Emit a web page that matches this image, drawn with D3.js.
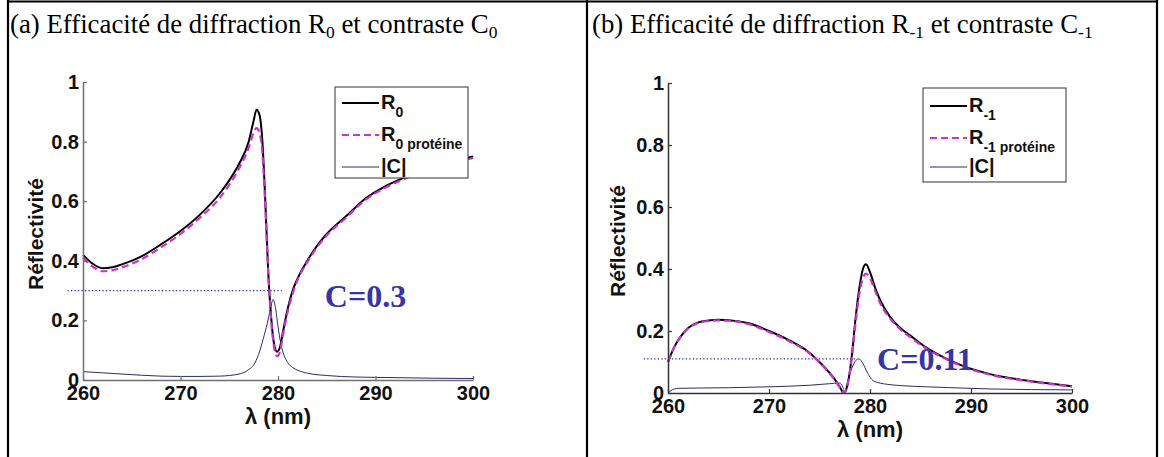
<!DOCTYPE html>
<html>
<head>
<meta charset="utf-8">
<script src="https://cdn.jsdelivr.net/npm/d3@7"></script>
<style>
  html, body { margin: 0; padding: 0; background: #fff; }
  svg { display: block; }
  .tick text { font-family: "Liberation Sans", Arial, sans-serif; font-weight: bold; font-size: 20px; fill: #111; }
</style>
</head>
<body>
<svg id="chart" width="1164" height="457"></svg>
<script>
// Wavelength samples (nm) and reflectivities for panel (a): order 0
const lambdaA_R = [260,261,262,263,264,266,268,270,272,274,275,276,277,277.5,277.8,278.1,278.4,278.7,279,279.3,279.6,279.9,280.2,280.5,281,281.5,282,283,284,285,287,289,291,293,295,297,300];
const R0 = [0.42,0.39,0.375,0.378,0.388,0.415,0.455,0.50,0.555,0.625,0.67,0.725,0.80,0.87,0.907,0.89,0.80,0.60,0.36,0.21,0.12,0.095,0.11,0.16,0.24,0.30,0.34,0.40,0.45,0.49,0.55,0.61,0.65,0.68,0.705,0.725,0.75];
const R0prot = [0.41,0.38,0.365,0.368,0.378,0.405,0.445,0.49,0.545,0.61,0.655,0.71,0.78,0.83,0.845,0.83,0.76,0.58,0.36,0.2,0.11,0.08,0.095,0.15,0.23,0.29,0.335,0.395,0.445,0.485,0.545,0.605,0.645,0.675,0.70,0.72,0.745];
const lambdaA_C = [260,262,264,266,268,270,272,274,276,277,277.5,278,278.5,278.9,279.2,279.5,279.7,280,280.3,280.6,281,281.5,282,283,285,288,292,296,300];
const C0 = [0.028,0.024,0.02,0.016,0.013,0.012,0.012,0.013,0.02,0.035,0.05,0.085,0.14,0.19,0.235,0.27,0.25,0.18,0.12,0.085,0.058,0.042,0.033,0.023,0.015,0.01,0.008,0.006,0.005];
const contrastA = 0.3;

// Panel (b): order -1
const lambdaB_R = [260,260.5,261,262,263,264,265,266,268,270,272,274,275,276,276.5,277,277.4,277.8,278.2,278.6,279,279.3,279.6,280,280.5,281,282,283,284,285.5,287,289,292,295.5,300];
const Rm1 = [0.10,0.14,0.17,0.21,0.228,0.234,0.236,0.235,0.225,0.20,0.17,0.13,0.10,0.065,0.045,0.02,0.0,0.03,0.12,0.25,0.35,0.40,0.415,0.39,0.34,0.30,0.245,0.21,0.185,0.148,0.12,0.09,0.06,0.04,0.022];
const Rm1prot = [0.10,0.14,0.17,0.208,0.226,0.232,0.234,0.233,0.222,0.197,0.167,0.128,0.098,0.063,0.043,0.018,0.0,0.03,0.115,0.235,0.33,0.37,0.385,0.37,0.33,0.29,0.24,0.205,0.18,0.145,0.118,0.088,0.058,0.039,0.021];
const lambdaB_C = [260,260.3,261,263,266,270,274,276,277,277.3,277.5,277.8,278.2,278.6,278.9,279.3,279.7,280.3,281,281.7,283,285.6,289,292,296,300];
const Cm1 = [0.0,0.008,0.015,0.016,0.017,0.02,0.025,0.03,0.032,0.02,0.0,0.04,0.08,0.105,0.11,0.095,0.068,0.04,0.032,0.028,0.024,0.02,0.016,0.013,0.011,0.01];
const contrastB = 0.11;

// Axis ticks
const xTicks = [260, 270, 280, 290, 300];
const yTicks = [0, 0.2, 0.4, 0.6, 0.8, 1];

const svg = d3.select("#chart");
const serif = "'Liberation Serif', 'Times New Roman', serif";
const sans = "'Liberation Sans', Arial, sans-serif";

// Table frame
const frame = svg.append("g").attr("stroke", "#000").attr("stroke-width", 2.2);
frame.append("line").attr("x1", 7).attr("x2", 1158).attr("y1", 1.5).attr("y2", 1.5);
frame.append("line").attr("x1", 8).attr("x2", 8).attr("y1", 0).attr("y2", 457);
frame.append("line").attr("x1", 587).attr("x2", 587).attr("y1", 0).attr("y2", 457);
frame.append("line").attr("x1", 1157).attr("x2", 1157).attr("y1", 0).attr("y2", 457);

function title(x, parts) {
  const t = svg.append("text").attr("x", x).attr("y", 33)
    .attr("font-family", serif).attr("font-size", 26.8).attr("fill", "#000");
  parts.forEach(p => {
    const s = t.append("tspan").text(p.t);
    if (p.sub) s.attr("font-size", 17.5).attr("dy", 5);
    else if (p.back) s.attr("dy", -5);
  });
}

function panel(cfg) {
  const x = d3.scaleLinear().domain([260, 300]).range(cfg.xr);
  const y = d3.scaleLinear().domain([0, 1]).range(cfg.yr);
  const g = svg.append("g");

  const line = (xs, ys) => d3.line().curve(d3.curveMonotoneX)
    .x((d, i) => x(xs[i])).y(d => y(d))(ys);

  // dotted contrast level
  g.append("line")
    .attr("x1", x(cfg.dot[0])).attr("x2", x(cfg.dot[1]))
    .attr("y1", y(cfg.cval)).attr("y2", y(cfg.cval))
    .attr("stroke", "#2a2ad0").attr("stroke-width", 1.3).attr("stroke-dasharray", "1.3,2.2");

  // contrast curve
  g.append("path").attr("d", line(cfg.lc, cfg.c))
    .attr("fill", "none").attr("stroke", "#2c2c6a").attr("stroke-width", 1);
  // reflectivity without / with protein
  g.append("path").attr("d", line(cfg.lr, cfg.r))
    .attr("fill", "none").attr("stroke", "#000").attr("stroke-width", 2);
  g.append("path").attr("d", line(cfg.lr, cfg.rp))
    .attr("fill", "none").attr("stroke", "#cc33cc").attr("stroke-width", 2.2)
    .attr("stroke-dasharray", "7,4");

  // axes
  const yAxis = d3.axisLeft(y).tickValues(yTicks)
    .tickFormat(d => d === 0 ? "0" : d === 1 ? "1" : d3.format(".1f")(d))
    .tickSizeInner(-4).tickSizeOuter(0).tickPadding(4);
  const xAxis = d3.axisBottom(x).tickValues(xTicks).tickFormat(d3.format("d"))
    .tickSizeInner(-4).tickSizeOuter(0).tickPadding(6);
  const ga = g.append("g").attr("transform", `translate(${cfg.xr[0]},0)`).call(yAxis);
  const gb = g.append("g").attr("transform", `translate(0,${cfg.yr[0]})`).call(xAxis);
  [ga, gb].forEach(a => {
    a.select(".domain").attr("stroke", cfg.axisColor).attr("stroke-width", 1.5);
    a.selectAll(".tick line").attr("stroke", cfg.axisColor).attr("stroke-width", 1.2);
  });

  // axis titles
  const ymid = (cfg.yr[0] + cfg.yr[1]) / 2;
  g.append("text").attr("transform", `translate(${cfg.xr[0] - cfg.ylabOff},${ymid + 3}) rotate(-90)`)
    .attr("text-anchor", "middle").attr("font-family", sans).attr("font-weight", "bold")
    .attr("font-size", 21).attr("fill", "#111").text("Réflectivité");
  g.append("text").attr("x", (cfg.xr[0] + cfg.xr[1]) / 2).attr("y", cfg.yr[0] + 44)
    .attr("text-anchor", "middle").attr("font-family", sans).attr("font-weight", "bold")
    .attr("font-size", 22).attr("fill", "#111").text("λ (nm)");

  // contrast annotation
  g.append("text").attr("x", x(cfg.lab[0])).attr("y", y(cfg.lab[1]))
    .attr("font-family", serif).attr("font-weight", "bold").attr("font-size", 32)
    .attr("fill", "#3535a5").text(cfg.labText);

  // legend
  const L = cfg.legend;
  const lg = g.append("g").attr("transform", `translate(${L.x},${L.y})`);
  lg.append("rect").attr("width", L.w).attr("height", L.h)
    .attr("fill", "#fff").attr("stroke", "#333").attr("stroke-width", 1);
  const rows = [
    { stroke: "#000", w: 2, dash: null, main: "R", sub: cfg.subR },
    { stroke: "#cc33cc", w: 2.2, dash: "7,4", main: "R", sub: cfg.subR + " protéine" },
    { stroke: "#2c2c6a", w: 1, dash: null, main: "|C|", sub: null }
  ];
  rows.forEach((r, i) => {
    const yy = L.rows[i];
    lg.append("line").attr("x1", 7).attr("x2", 44).attr("y1", yy).attr("y2", yy)
      .attr("stroke", r.stroke).attr("stroke-width", r.w).attr("stroke-dasharray", r.dash);
    const t = lg.append("text").attr("x", 46).attr("y", yy + 6)
      .attr("font-family", sans).attr("font-weight", "bold").attr("font-size", 20).attr("fill", "#111");
    t.append("tspan").text(r.main);
    if (r.sub) t.append("tspan").attr("dy", 8).attr("font-size", 14).text(r.sub);
  });
}

title(10, [{ t: "(a) Efficacité de diffraction R" }, { t: "0", sub: true }, { t: " et contraste C", back: true }, { t: "0", sub: true }]);
title(592, [{ t: "(b) Efficacité de diffraction R" }, { t: "-1", sub: true }, { t: " et contraste C", back: true }, { t: "-1", sub: true }]);

panel({
  xr: [83, 473], yr: [380, 82], axisColor: "#707070", ylabOff: 40,
  lr: lambdaA_R, r: R0, rp: R0prot, lc: lambdaA_C, c: C0,
  cval: contrastA, dot: [258.4, 280.4],
  lab: [284.8, 0.245], labText: "C=0.3", subR: "0",
  legend: { x: 335, y: 87, w: 133, h: 91, rows: [16, 48, 80] }
});
panel({
  xr: [668, 1072], yr: [393, 83], axisColor: "#333", ylabOff: 43,
  lr: lambdaB_R, r: Rm1, rp: Rm1prot, lc: lambdaB_C, c: Cm1,
  cval: contrastB, dot: [257.6, 278.7],
  lab: [280.7, 0.074], labText: "C=0.11", subR: "-1",
  legend: { x: 923, y: 88, w: 143, h: 94, rows: [18, 50, 79] }
});
</script>
</body>
</html>
